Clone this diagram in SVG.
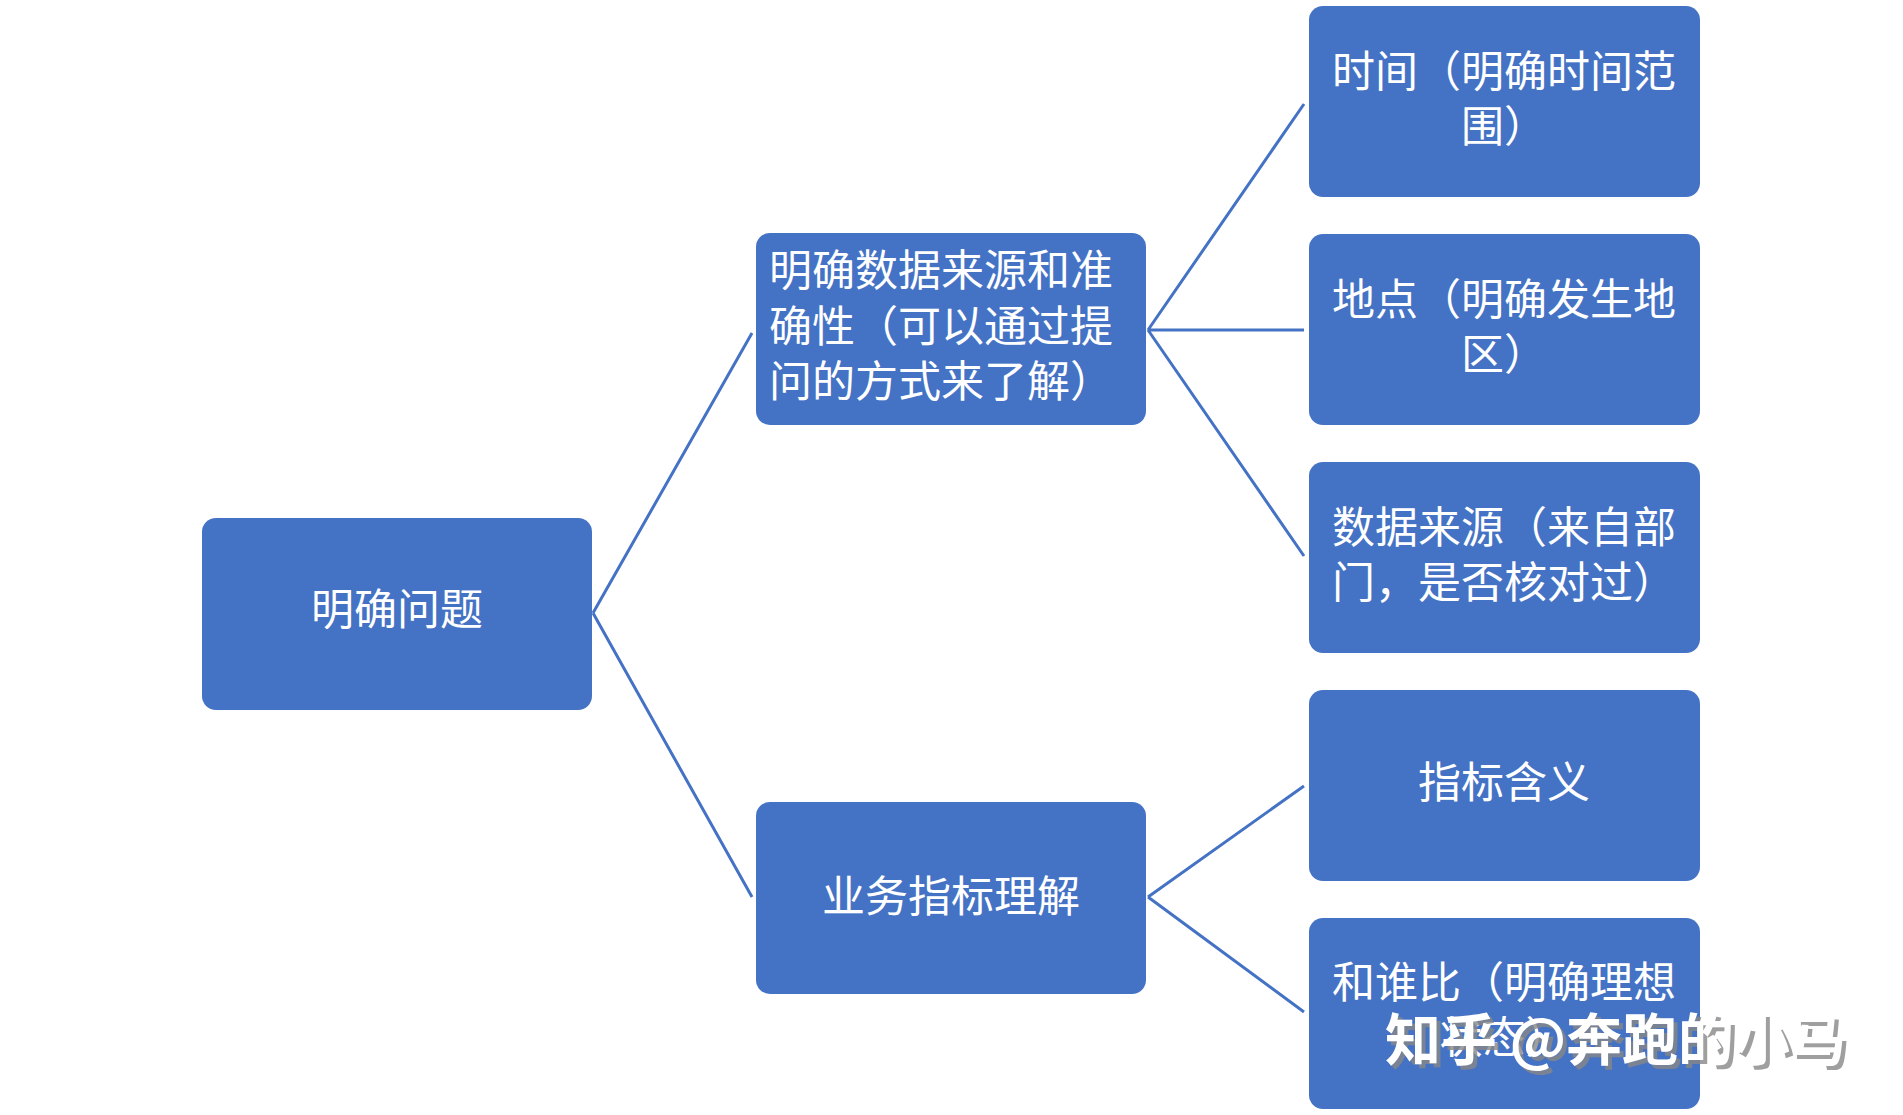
<svg xmlns="http://www.w3.org/2000/svg" width="1903" height="1115" viewBox="0 0 1903 1115">
<style>
.b{fill:#4472C4;}
.t{fill:#fff;font-family:"Noto Sans CJK SC","Liberation Sans",sans-serif;font-size:43px;}
.c{text-anchor:middle;}
.l{stroke:#4472C4;stroke-width:3;fill:none;}
.w{font-family:"Noto Sans CJK SC",sans-serif;font-size:56px;font-weight:bold;}
</style>
<rect width="1903" height="1115" fill="#fff"/>
<g id="connectors">
<path class="l" d="M593 613 L752 333 M593 613 L752 897 M1148 330 L1304 104 M1148 330 L1304 330 M1148 330 L1304 556 M1148 897 L1304 786 M1148 897 L1304 1012"/>
</g>
<g id="root"><rect class="b" x="202" y="518" width="390" height="192" rx="14"/><text class="t c" x="397" y="625">明确问题</text></g>
<g id="mid1"><rect class="b" x="756" y="233" width="390" height="192" rx="14"/>
<text class="t" x="769" y="286">明确数据来源和准</text><text class="t" x="769" y="342">确性（可以通过提</text><text class="t" x="769" y="397">问的方式来了解）</text></g>
<g id="mid2"><rect class="b" x="756" y="802" width="390" height="192" rx="14"/><text class="t c" x="951" y="912">业务指标理解</text></g>
<g id="r1"><rect class="b" x="1309" y="6" width="391" height="191" rx="14"/><text class="t c" x="1504" y="87">时间（明确时间范</text><text class="t c" x="1504" y="142">围）</text></g>
<g id="r2"><rect class="b" x="1309" y="234" width="391" height="191" rx="14"/><text class="t c" x="1504" y="315">地点（明确发生地</text><text class="t c" x="1504" y="370">区）</text></g>
<g id="r3"><rect class="b" x="1309" y="462" width="391" height="191" rx="14"/><text class="t c" x="1504" y="543">数据来源（来自部</text><text class="t c" x="1504" y="598">门，是否核对过）</text></g>
<g id="r4"><rect class="b" x="1309" y="690" width="391" height="191" rx="14"/><text class="t c" x="1504" y="798">指标含义</text></g>
<g id="r5"><rect class="b" x="1309" y="918" width="391" height="191" rx="14"/><text class="t c" x="1504" y="998">和谁比（明确理想</text><text class="t c" x="1504" y="1053">状态）</text></g>
<g id="watermark">
<text class="w" x="1389" y="1064" fill="#888" opacity="0.8">知乎 @奔跑的小马</text>
<text class="w" x="1385" y="1060" fill="#fff">知乎 @奔跑的小马</text>
</g>
</svg>
